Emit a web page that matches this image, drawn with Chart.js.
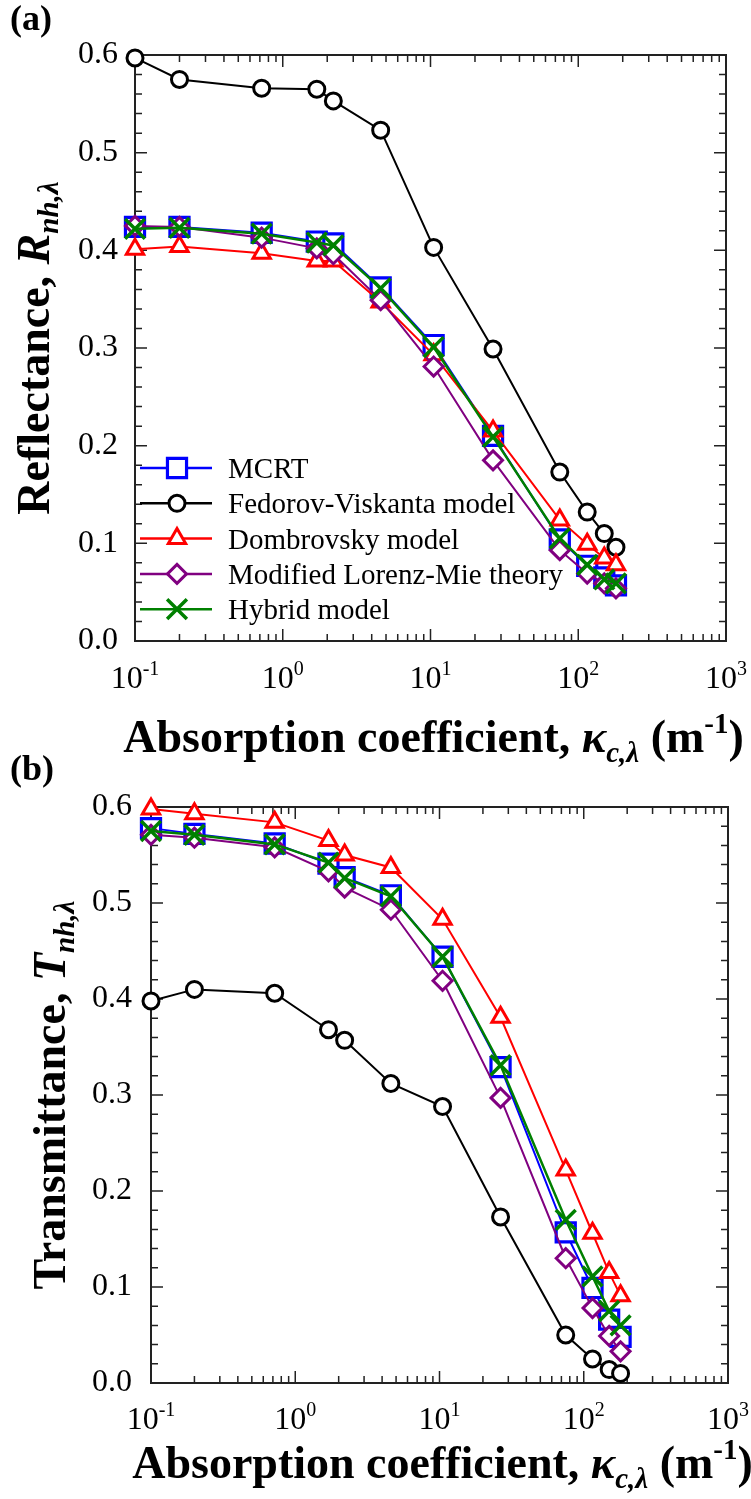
<!DOCTYPE html>
<html>
<head>
<meta charset="utf-8">
<title>Reflectance and transmittance vs absorption coefficient</title>
<script src="https://cdn.jsdelivr.net/npm/chart.js@4.4.1/dist/chart.umd.min.js"></script>
<style>
  html, body { margin: 0; padding: 0; background: #fff; }
  body { position: relative; width: 751px; height: 1499px; overflow: hidden; }
  canvas { position: absolute; left: 0; }
  #chartA { top: 0; }
  #chartB { top: 740px; }
</style>
</head>
<body>
<canvas id="chartA" width="751" height="780"></canvas>
<canvas id="chartB" width="751" height="759"></canvas>
<script>
// absorption coefficient (m^-1), same for every series
const kappa = [0.1, 0.2, 0.72, 1.7, 2.2, 4.6, 10.5, 26.5, 75, 115, 150, 180];
const seriesNames = ['MCRT', 'Fedorov-Viskanta model', 'Dombrovsky model', 'Modified Lorenz-Mie theory', 'Hybrid model'];

// (a) reflectance
const reflMCRT = [0.424, 0.424, 0.418, 0.409, 0.407, 0.362, 0.303, 0.210, 0.104, 0.077, 0.065, 0.057];
const reflFV   = [0.597, 0.575, 0.566, 0.565, 0.553, 0.523, 0.403, 0.299, 0.173, 0.132, 0.110, 0.096];
const reflDomb = [0.401, 0.404, 0.397, 0.389, 0.389, 0.347, 0.293, 0.215, 0.124, 0.099, 0.085, 0.078];
const reflLM   = [0.425, 0.424, 0.413, 0.402, 0.396, 0.349, 0.281, 0.185, 0.093, 0.069, 0.059, 0.054];
const reflHyb  = [0.422, 0.423, 0.417, 0.408, 0.405, 0.361, 0.301, 0.209, 0.105, 0.078, 0.063, 0.059];

// (b) transmittance
const transMCRT = [0.578, 0.572, 0.562, 0.541, 0.527, 0.508, 0.444, 0.329, 0.157, 0.099, 0.066, 0.048];
const transFV   = [0.398, 0.410, 0.406, 0.368, 0.357, 0.312, 0.288, 0.173, 0.050, 0.025, 0.014, 0.010];
const transDomb = [0.598, 0.593, 0.584, 0.565, 0.550, 0.537, 0.483, 0.381, 0.222, 0.156, 0.115, 0.091];
const transLM   = [0.571, 0.568, 0.558, 0.533, 0.516, 0.493, 0.419, 0.297, 0.130, 0.078, 0.049, 0.033];
const transHyb  = [0.575, 0.571, 0.561, 0.542, 0.526, 0.507, 0.444, 0.331, 0.170, 0.111, 0.075, 0.060];

// axes
const yTicks = [0, 0.1, 0.2, 0.3, 0.4, 0.5, 0.6];
const yMinorStep = 0.02;
const xDecades = [0.1, 1, 10, 100, 1000];
const xExponents = ['-1', '0', '1', '2', '3'];

// styles
const seriesColors = ['#0000ff', '#000000', '#ff0000', '#800080', '#008000'];
const seriesMarkers = ['rect', 'circle', 'triangle', 'rectRot', 'crossRot'];
const markerRadius = [13.5, 8, 10, 9.5, 14];
const markerWidth = [3.2, 3, 3, 3, 3.5];
const lineWidths = [2, 2, 2, 2, 2.5];

const serif = '"Liberation Serif", "Times New Roman", serif';

function richWidth(ctx, segs) {
    let w = 0;
    segs.forEach(s => { ctx.font = s.font; w += ctx.measureText(s.text).width; });
    return w;
}

function drawRich(ctx, segs, x, y) {
    let cx = x;
    segs.forEach(s => {
        ctx.font = s.font;
        ctx.fillText(s.text, cx, y + (s.dy || 0));
        cx += ctx.measureText(s.text).width;
    });
}

function xTitleSegs() {
    return [
        {text: 'Absorption coefficient, ', font: 'bold 46px ' + serif},
        {text: 'κ', font: 'italic bold 46px ' + serif},
        {text: 'c,λ', font: 'italic bold 29px ' + serif, dy: 10},
        {text: ' (m', font: 'bold 46px ' + serif},
        {text: '-1', font: 'bold 29px ' + serif, dy: -19},
        {text: ')', font: 'bold 46px ' + serif}
    ];
}

function panelPlugin(p) {
    return {
        id: 'panel' + p.label,
        beforeDatasetsDraw(chart) {
            const {ctx, chartArea: a, scales: {x, y}} = chart;
            ctx.save();
            ctx.strokeStyle = '#222';
            ctx.lineWidth = 1.5;
            ctx.beginPath();
            // y ticks, inward on both sides
            const nMinor = Math.round((yTicks[yTicks.length - 1] - yTicks[0]) / yMinorStep);
            for (let i = 0; i <= nMinor; i++) {
                const py = y.getPixelForValue(yTicks[0] + i * yMinorStep);
                const len = i % 5 === 0 ? 12 : 7;
                ctx.moveTo(a.left, py); ctx.lineTo(a.left + len, py);
                ctx.moveTo(a.right, py); ctx.lineTo(a.right - len, py);
            }
            // log x ticks, inward top and bottom
            xDecades.forEach((d, i) => {
                const last = i === xDecades.length - 1;
                for (let m = 1; m <= (last ? 1 : 9); m++) {
                    const px = x.getPixelForValue(d * m);
                    const len = m === 1 ? 12 : 7;
                    ctx.moveTo(px, a.bottom); ctx.lineTo(px, a.bottom - len);
                    ctx.moveTo(px, a.top); ctx.lineTo(px, a.top + len);
                }
            });
            ctx.stroke();
            ctx.lineWidth = 2;
            ctx.strokeRect(a.left, a.top, a.right - a.left, a.bottom - a.top);
            ctx.restore();
        },
        afterDraw(chart) {
            const {ctx, chartArea: a, scales: {x}} = chart;
            ctx.save();
            ctx.fillStyle = '#000';
            ctx.textBaseline = 'alphabetic';

            // x tick labels 10^n
            xDecades.forEach((v, i) => {
                const px = x.getPixelForValue(v);
                ctx.font = '32px ' + serif;
                const wb = ctx.measureText('10').width;
                ctx.font = '20px ' + serif;
                const we = ctx.measureText(xExponents[i]).width;
                const x0 = px - (wb + we) / 2;
                ctx.font = '32px ' + serif;
                ctx.fillText('10', x0, p.tickBase);
                ctx.font = '20px ' + serif;
                ctx.fillText(xExponents[i], x0 + wb, p.tickBase - 13);
            });

            // x title
            const xs = xTitleSegs();
            drawRich(ctx, xs, (a.left + a.right) / 2 + 3 - richWidth(ctx, xs) / 2, p.titleBase);

            // y title, rotated
            const ys = [
                {text: p.yTitle[0], font: 'bold 46px ' + serif},
                {text: p.yTitle[1], font: 'italic bold 46px ' + serif},
                {text: p.yTitle[2], font: 'italic bold 29px ' + serif, dy: 9}
            ];
            ctx.save();
            ctx.translate(p.yTitleX, (a.top + a.bottom) / 2);
            ctx.rotate(-Math.PI / 2);
            drawRich(ctx, ys, -richWidth(ctx, ys) / 2, 0);
            ctx.restore();

            // panel label
            ctx.font = 'bold 36px ' + serif;
            ctx.fillText(p.label, 10, p.labelY);

            // legend
            if (p.legend) {
                seriesNames.forEach((name, i) => {
                    const ly = a.top + 413 + i * 35.3;
                    ctx.strokeStyle = seriesColors[i];
                    ctx.lineWidth = 2.5;
                    ctx.beginPath();
                    ctx.moveTo(a.left + 5, ly); ctx.lineTo(a.left + 77, ly);
                    ctx.stroke();
                    ctx.fillStyle = '#fff';
                    ctx.lineWidth = markerWidth[i];
                    Chart.helpers.drawPoint(ctx, {
                        pointStyle: seriesMarkers[i], rotation: 0,
                        radius: markerRadius[i], borderWidth: markerWidth[i]
                    }, a.left + 42, ly);
                    ctx.fillStyle = '#000';
                    ctx.font = '29px ' + serif;
                    ctx.fillText(name, a.left + 93, ly + 10);
                });
            }
            ctx.restore();
        }
    };
}

function makePanel(p) {
    const datasets = seriesNames.map((name, i) => ({
        label: name,
        data: kappa.map((k, j) => ({x: k, y: p.values[i][j]})),
        borderColor: seriesColors[i],
        backgroundColor: '#fff',
        borderWidth: lineWidths[i],
        pointStyle: seriesMarkers[i],
        pointRadius: markerRadius[i],
        pointBorderWidth: markerWidth[i],
        pointBackgroundColor: '#fff',
        pointBorderColor: seriesColors[i],
        tension: 0,
        clip: false,
        order: seriesNames.length - i
    }));

    return new Chart(document.getElementById(p.id), {
        type: 'line',
        data: {datasets: datasets},
        options: {
            responsive: false,
            animation: false,
            devicePixelRatio: 1,
            layout: {padding: {left: 0, top: p.top, right: p.right, bottom: 0}},
            plugins: {legend: {display: false}, tooltip: {enabled: false}},
            scales: {
                x: {
                    type: 'logarithmic', min: 0.1, max: 1000,
                    grid: {display: false, drawTicks: false},
                    border: {display: false},
                    ticks: {display: false},
                    afterFit: s => { s.height = p.xAxisH; }
                },
                y: {
                    min: 0, max: 0.6,
                    grid: {display: false, drawTicks: false},
                    border: {display: false},
                    afterBuildTicks: s => { s.ticks = yTicks.map(v => ({value: v})); },
                    ticks: {
                        callback: v => v.toFixed(1),
                        font: {family: serif, size: 32},
                        color: '#000',
                        padding: p.yPad
                    },
                    afterFit: s => { s.width = p.yAxisW; }
                }
            }
        },
        plugins: [panelPlugin(p)]
    });
}

makePanel({
    id: 'chartA', label: '(a)', labelY: 30, legend: true,
    top: 55, right: 25, yAxisW: 135, xAxisH: 139, yPad: 17,
    tickBase: 688, titleBase: 752, yTitleX: 49,
    yTitle: ['Reflectance, ', 'R', 'nh,λ'],
    values: [reflMCRT, reflFV, reflDomb, reflLM, reflHyb]
});

makePanel({
    id: 'chartB', label: '(b)', labelY: 40, legend: false,
    top: 67, right: 23, yAxisW: 151, xAxisH: 116, yPad: 19,
    tickBase: 689, titleBase: 738, yTitleX: 65,
    yTitle: ['Transmittance, ', 'T', 'nh,λ'],
    values: [transMCRT, transFV, transDomb, transLM, transHyb]
});
</script>
</body>
</html>
